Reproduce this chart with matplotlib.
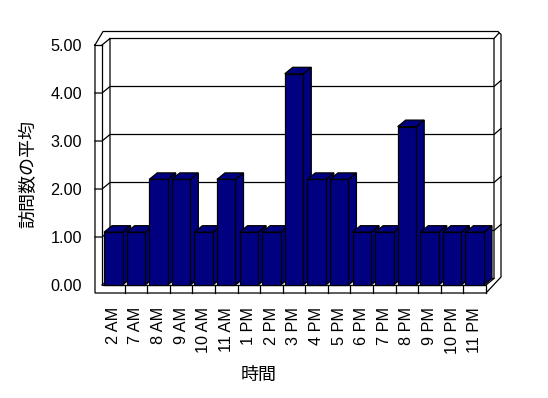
"""Excel-style 3D column chart: average visits per hour (訪問数の平均 by 時間)."""
import matplotlib
matplotlib.use("Agg")
import matplotlib.pyplot as plt
from matplotlib.patches import Polygon

plt.rcParams["font.family"] = ["Liberation Sans", "Noto Sans CJK JP"]

# --- data -------------------------------------------------------------------
hours = ["2 AM", "7 AM", "8 AM", "9 AM", "10 AM", "11 AM", "1 PM", "2 PM",
         "3 PM", "4 PM", "5 PM", "6 PM", "7 PM", "8 PM", "9 PM", "10 PM", "11 PM"]
avg_visits = [1.1, 1.1, 2.2, 2.2, 1.1, 2.2, 1.1, 1.1,
              4.4, 2.2, 2.2, 1.1, 1.1, 3.3, 1.1, 1.1, 1.1]
y_ticks = [0, 1, 2, 3, 4, 5]
y_label = "訪問数の平均"
x_label = "時間"

# --- geometry (front plane of the plot box, in figure pixels) ---------------
W, H = 548, 398
FRONT_L, FRONT_R, FRONT_TOP, FRONT_BOT = 102, 486, 45, 285
n = len(hours)
PX = (FRONT_R - FRONT_L) / n              # px per category
PY = (FRONT_BOT - FRONT_TOP) / 5.0        # px per value unit
DX, DY = 8, 6.5                           # depth of bars / floor (px, up = +)
BAR_W = 0.82
NAVY = "#000080"
LW = 0.9

fig = plt.figure(figsize=(W / 100, H / 100), dpi=100)
ax = fig.add_axes([FRONT_L / W, 1 - FRONT_BOT / H,
                   (FRONT_R - FRONT_L) / W, (FRONT_BOT - FRONT_TOP) / H])
ax.set_xlim(-0.5, n - 0.5)
ax.set_ylim(0, 5)
for s in ax.spines.values():
    s.set_visible(False)


def P(x, y, ox=0.0, oy=0.0):
    """data point shifted by a pixel offset (oy up = +)."""
    return (x + ox / PX, y + oy / PY)


def line(pts, z=1):
    xs, ys = zip(*pts)
    ax.plot(xs, ys, color="black", lw=LW, zorder=z, clip_on=False,
            solid_joinstyle="miter")


def poly(pts, fc, z):
    ax.add_patch(Polygon(pts, closed=True, facecolor=fc, edgecolor="black",
                         lw=LW, zorder=z, clip_on=False, joinstyle="miter"))


x0, x1, yb, yt = -0.5, n - 0.5, 0.0, 5.0

# --- walls and floor --------------------------------------------------------
# outer outline
line([P(x0, yt, -7, 0), P(x0, yt, 1, 13.5), P(x1, yt, 12, 13.5),
      P(x1, yt, 15, 10.5), P(x1, yb, 15, 8), P(x1, yb, 0, -8),
      P(x0, yb, -7, -8), P(x0, yt, -7, 0)])
# left wall front face / floor front face
line([P(x0, yt, -7, 0), P(x0, yt)])
line([P(x0, yt), P(x0, yb), P(x1, yb), P(x1, yb, 0, -8)])
# back wall inner face
line([P(x0, yt), P(x0, yt, DX, DY), P(x1, yt, DX, DY), P(x1, yb, DX, DY),
      P(x0, yb, DX, DY), P(x0, yt, DX, DY)])
line([P(x1, yt, DX, DY), P(x1, yt, 13, 12)])
line([P(x0, yb), P(x0, yb, DX, DY)])
line([P(x1, yb), P(x1, yb, DX, DY)])
# gridlines across left wall and back wall
for v in y_ticks[1:-1]:
    line([P(x0, v, -7, 0), P(x0, v), P(x0, v, DX, DY), P(x1, v, DX, DY),
          P(x1, v, 15, 12.5)])
# category dividers in the floor front face
for i in range(1, n):
    line([P(i - 0.5, yb), P(i - 0.5, yb, 0, -8)])

# --- bars -------------------------------------------------------------------
for i, v in enumerate(avg_visits):
    a, b = i - BAR_W / 2, i + BAR_W / 2
    z = 3 + i
    poly([P(b, 0), P(b, 0, DX, DY), P(b, v, DX, DY), P(b, v)], NAVY, z)
    poly([P(a, v), P(b, v), P(b, v, DX, DY), P(a, v, DX, DY)], NAVY, z)
    poly([P(a, 0), P(b, 0), P(b, v), P(a, v)], NAVY, z)

# --- ticks and labels -------------------------------------------------------
ax.set_yticks(y_ticks)
ax.set_yticklabels([f"{t:.2f}" for t in y_ticks], fontsize=11.7)
ax.set_xticks(range(n))
ax.set_xticklabels(hours, rotation=90, fontsize=11.7, va="top")
ax.tick_params(axis="y", length=0, pad=14.4)
ax.tick_params(axis="x", length=0, pad=15.8)

fig.text(29 / W, 1 - 174 / H, y_label, rotation=90, fontsize=13,
         ha="center", va="center")
fig.text(259 / W, 1 - 375 / H, x_label, fontsize=13, ha="center", va="center")

fig.savefig("out.png", dpi=100)
